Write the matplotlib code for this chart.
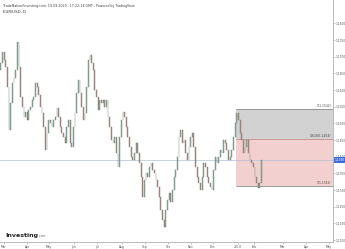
import matplotlib
matplotlib.use("Agg")
import matplotlib.pyplot as plt

# Daily closes
closes = [
    1.1680, 1.1715, 1.1690, 1.1670, 1.1610, 1.1480, 1.1561, 1.1621, 1.1636, 1.1660,
    1.1745, 1.1670, 1.1580, 1.1550, 1.1520, 1.1535, 1.1510, 1.1540, 1.1550, 1.1570,
    1.1580, 1.1620, 1.1610, 1.1585, 1.1550, 1.1530, 1.1490, 1.1420, 1.1470, 1.1510,
    1.1500, 1.1490, 1.1510, 1.1520, 1.1545, 1.1520, 1.1490, 1.1470, 1.1460, 1.1440,
    1.1490, 1.1510, 1.1440, 1.1430, 1.1490, 1.1530, 1.1590, 1.1630,
    1.1590, 1.1550, 1.1510, 1.1530, 1.1610, 1.1690, 1.1705, 1.1680, 1.1660, 1.1600,
    1.1580, 1.1540, 1.1570, 1.1560, 1.1570, 1.1550, 1.1570, 1.1520, 1.1490, 1.1450,
    1.1440, 1.1460, 1.1410, 1.1370, 1.1460, 1.1510, 1.1535, 1.1520, 1.1490, 1.1460,
    1.1430, 1.1400, 1.1390, 1.1410, 1.1440, 1.1410, 1.1380, 1.1340, 1.1280, 1.1330,
    1.1350, 1.1340, 1.1370, 1.1380, 1.1360, 1.1350, 1.1330, 1.1310,
    1.1280, 1.1240, 1.1210, 1.1190, 1.1240, 1.1270, 1.1290, 1.1265, 1.1300, 1.1340,
    1.1360, 1.1400, 1.1460, 1.1480, 1.1440, 1.1450, 1.1410, 1.1390, 1.1430, 1.1460,
    1.1470, 1.1430, 1.1370, 1.1340, 1.1320, 1.1300, 1.1340, 1.1380, 1.1370, 1.1340,
    1.1320, 1.1310, 1.1300, 1.1360, 1.1400, 1.1380, 1.1400, 1.1420, 1.1410, 1.1450,
    1.1440, 1.1420, 1.1390, 1.1400, 1.1420, 1.1460, 1.1500, 1.1530, 1.1510, 1.1470,
    1.1450, 1.1410, 1.1430, 1.1450, 1.1410, 1.1390, 1.1380, 1.1370, 1.1340, 1.1320,
    1.1305, 1.1320, 1.1390,
]
first_open = 1.1660

price_ticks = [1.1800, 1.1750, 1.1700, 1.1650, 1.1600, 1.1550, 1.1500, 1.1450,
               1.1400, 1.1350, 1.1300, 1.1250, 1.1200, 1.1150]

month_pos = [1.9, 15.9, 29.2, 44.3, 58.3, 73.4, 87.4, 101.3, 115.3, 128.6,
             143.7, 153.4, 171.0, 185.0, 198.9]
month_labels = ["Mar", "Apr", "May", "Jun", "Jul", "Aug", "Sep", "Oct", "Nov",
                "Dec", "2019", "Feb", "Mar", "Apr", "May"]

# fib box: start candle, high, low
fib_start = 142.6
fib_high = 1.1542
fib_low = 1.1312
fib_mid = fib_low + 0.618 * (fib_high - fib_low)

opens = [first_open] + closes[:-1]
x = list(range(len(closes)))
up = "#86b99c"
down = "#c2847c"
cols = [up if c >= o else down for o, c in zip(opens, closes)]
heights = [c - o for o, c in zip(opens, closes)]

fig = plt.figure(figsize=(3.45, 2.49), dpi=100)
ax = fig.add_axes([0, 0.028, 333 / 345, 0.972])

xmax = 201.3
ax.add_patch(plt.Rectangle((fib_start, fib_mid), xmax - fib_start, fib_high - fib_mid,
                           facecolor="#d2d2d2", edgecolor="none", zorder=0))
ax.add_patch(plt.Rectangle((fib_start, fib_low), xmax - fib_start, fib_mid - fib_low,
                           facecolor="#f2d0d0", edgecolor="none", zorder=0))
ax.hlines(fib_high, fib_start, xmax, color="#8c8c8c", lw=0.6, zorder=1)
ax.hlines(fib_mid, fib_start, xmax, color="#c98f8f", lw=0.6, zorder=1)
ax.hlines(fib_low, fib_start, xmax, color="#8c8c8c", lw=0.6, zorder=1)
for lvl, lab in [(fib_high, "0(%.4f)" % fib_high), (fib_mid, "0.618(%.4f)" % fib_mid),
                 (fib_low, "1(%.4f)" % fib_low)]:
    ax.text(xmax - 1, lvl + 0.0003, lab, fontsize=2.2, color="#444444",
            ha="right", va="bottom")

ax.bar(x, heights, bottom=opens, width=0.5, color=cols, edgecolor="#6f7f74",
       linewidth=0.3, zorder=2)

last = closes[-1]
ax.axhline(last, color="#b4c0d6", lw=0.5, zorder=1)

ax.set_xlim(-0.5, xmax)
ax.set_ylim(1.1144, 1.1870)
ax.yaxis.tick_right()
ax.set_yticks(price_ticks)
ax.set_yticklabels(["%.4f" % p for p in price_ticks], fontsize=2.1, color="#555555")
ax.set_xticks(month_pos)
ax.set_xticklabels(month_labels, fontsize=2.2, color="#555555")
ax.tick_params(axis="both", length=1.2, width=0.4, pad=0.8, colors="#999999",
               labelcolor="#555555")
for s in ["top", "left"]:
    ax.spines[s].set_visible(False)
for s in ["right", "bottom"]:
    ax.spines[s].set_color("#b0b0b0")
    ax.spines[s].set_linewidth(0.6)

ax.text(1.006, last, "%.4f" % last, transform=ax.get_yaxis_transform(),
        fontsize=2.1, color="white", ha="left", va="center", clip_on=False,
        bbox=dict(boxstyle="square,pad=0.2", facecolor="#3c6fd8", edgecolor="none"))

fig.text(0.01, 0.985, "TradeNation/Investing.com, 19.09.2019 - 17:22:14 GMT - Powered by TradingView",
         fontsize=2.3, color="#444444", va="top")
fig.text(0.01, 0.958, "EUR/USD, D", fontsize=2.8, color="#333333", va="top")
fig.text(0.015, 0.045, "Investing", fontsize=4.5, fontweight="bold", color="#222222",
         va="bottom")
fig.text(0.112, 0.045, ".com", fontsize=2.2, color="#666666", va="bottom")

fig.savefig("out.png", dpi=100)
